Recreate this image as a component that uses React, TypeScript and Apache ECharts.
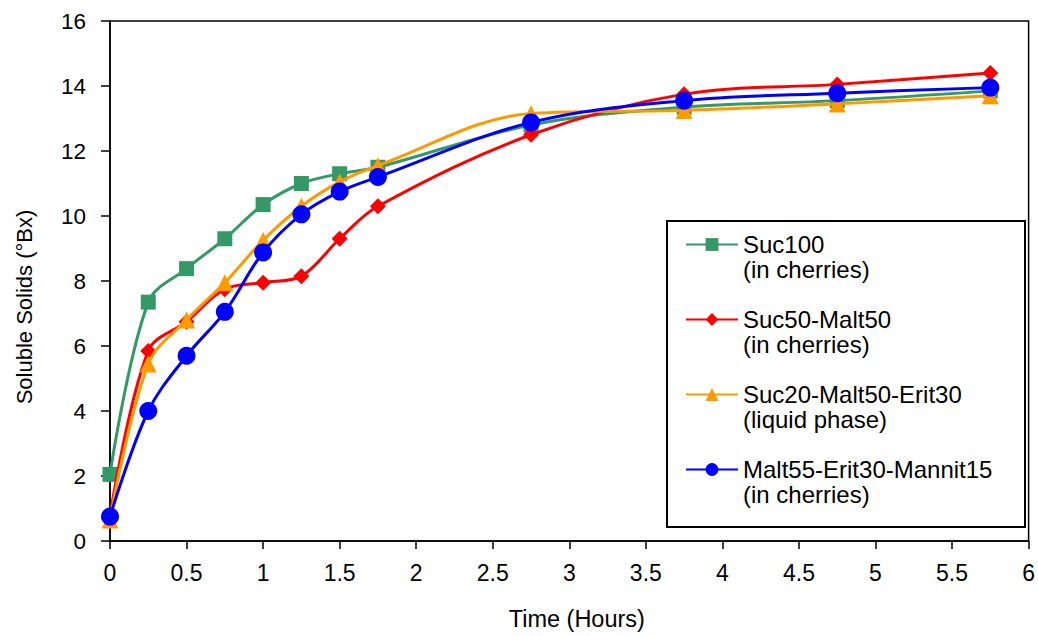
import React, { useEffect, useRef } from "react";
import * as echarts from "echarts";

const times = [0, 0.25, 0.5, 0.75, 1, 1.25, 1.5, 1.75, 2.75, 3.75, 4.75, 5.75];
const suc100 = [2.05, 7.35, 8.38, 9.3, 10.35, 11.0, 11.3, 11.5, 12.8, 13.35, 13.55, 13.85];
const suc50Malt50 = [0.75, 5.85, 6.75, 7.75, 7.95, 8.15, 9.3, 10.3, 12.5, 13.75, 14.05, 14.4];
const suc20Malt50Erit30 = [0.65, 5.45, 6.8, 7.95, 9.25, 10.3, 11.05, 11.55, 13.15, 13.25, 13.45, 13.7];
const malt55Erit30Mannit15 = [0.75, 4.0, 5.7, 7.05, 8.88, 10.05, 10.75, 11.2, 12.88, 13.55, 13.78, 13.95];

const seriesNames = [
  "Suc100\n(in cherries)",
  "Suc50-Malt50\n(in cherries)",
  "Suc20-Malt50-Erit30\n(liquid phase)",
  "Malt55-Erit30-Mannit15\n(in cherries)",
];
const seriesValues = [suc100, suc50Malt50, suc20Malt50Erit30, malt55Erit30Mannit15];
const seriesColors = ["#339966", "#ff0000", "#ff9900", "#0000ff"];
const seriesSymbols = ["rect", "diamond", "triangle", "circle"];
const seriesSymbolSizes = [15, 16, 17, 18];

const xAxisTitle = "Time (Hours)";
const yAxisTitle = "Soluble Solids (°Bx)";

const FONT = "'Liberation Sans', Arial, Helvetica, sans-serif";

export default function App() {
  const ref = useRef<HTMLDivElement>(null);

  useEffect(() => {
    document.body.style.margin = "0";
    if (!ref.current) return;
    const chart = echarts.init(ref.current, undefined, { renderer: "svg" });

    const series = seriesNames.map((name, i) => ({
      name,
      type: "line",
      data: times.map((t, j) => [t, seriesValues[i][j]]),
      smooth: 0.35,
      symbol: seriesSymbols[i],
      symbolSize: seriesSymbolSizes[i],
      showAllSymbol: true,
      color: seriesColors[i],
      lineStyle: { width: 3, color: seriesColors[i] },
      itemStyle: { color: seriesColors[i] },
      z: 2 + i,
    }));

    chart.setOption({
      animation: false,
      backgroundColor: "#ffffff",
      textStyle: { fontFamily: FONT },
      grid: {
        left: 110,
        right: 5.5,
        top: 21,
        bottom: 92.7,
        show: true,
        borderColor: "#000",
        borderWidth: 1.5,
        backgroundColor: "transparent",
      },
      xAxis: {
        type: "value",
        min: 0,
        max: 6,
        interval: 0.5,
        name: xAxisTitle,
        nameLocation: "middle",
        nameGap: 66,
        nameTextStyle: { fontSize: 23.5, color: "#000", fontFamily: FONT, padding: [0, 0, 0, 15] },
        axisLine: { show: true, lineStyle: { color: "#000", width: 1.5 } },
        axisTick: { show: true, inside: false, length: 8, lineStyle: { color: "#000", width: 1.5 } },
        axisLabel: { fontSize: 23, color: "#000", margin: 20, fontFamily: FONT },
        splitLine: { show: false },
      },
      yAxis: {
        type: "value",
        min: 0,
        max: 16,
        interval: 2,
        name: yAxisTitle,
        nameLocation: "middle",
        nameGap: 75,
        nameRotate: 90,
        nameTextStyle: { fontSize: 22, color: "#000", fontFamily: FONT, padding: [0, 52, 0, 0] },
        axisLine: { show: true, lineStyle: { color: "#000", width: 1.5 } },
        axisTick: { show: true, inside: false, length: 9, lineStyle: { color: "#000", width: 1.5 } },
        axisLabel: { fontSize: 22.5, color: "#000", margin: 24, fontFamily: FONT },
        splitLine: { show: false },
      },
      legend: {
        orient: "vertical",
        left: 685,
        top: 207,
        padding: 0,
        itemGap: 0,
        itemWidth: 52,
        itemHeight: 16,
        data: seriesNames,
        formatter: (name: string) => "\n" + name,
        textStyle: {
          fontSize: 24,
          lineHeight: 25,
          color: "#000",
          fontFamily: FONT,
        },
      },
      graphic: [
        {
          type: "rect",
          z: 3,
          shape: { x: 667, y: 221, width: 358, height: 306 },
          style: { fill: "#fff", stroke: "#000", lineWidth: 2 },
        },
      ],
      series,
    });

    return () => {
      chart.dispose();
    };
  }, []);

  return <div ref={ref} style={{ width: 1038, height: 636 }} />;
}
